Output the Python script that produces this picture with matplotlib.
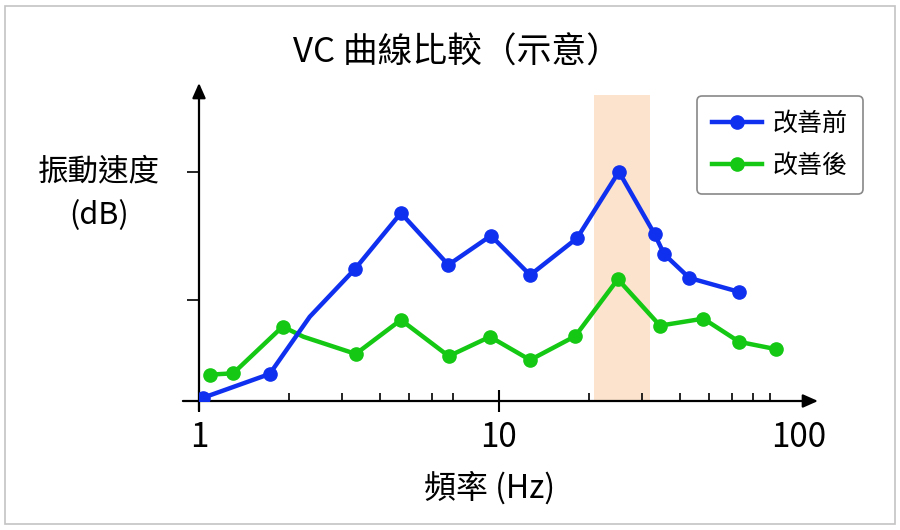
import matplotlib
matplotlib.use('Agg')
import matplotlib.pyplot as plt
from matplotlib.patches import Rectangle

plt.rcParams['font.family'] = ['Noto Sans CJK TC', 'DejaVu Sans']

# データ（示意）: 周波数 Hz と 振動速度（相対値）
freq_before = [1.03, 1.72, 2.34, 3.31, 4.71, 6.78, 9.40, 12.7, 18.2, 25.1, 33.0, 35.5, 43.1, 63.2]
vc_before = [1.0, 8.5, 26.5, 41.5, 59.1, 42.8, 52.0, 39.6, 51.2, 72.1, 52.5, 46.2, 38.7, 34.3]
mark_before = [0, 1, 3, 4, 5, 6, 7, 8, 9, 10, 11, 12, 13]  # 2 番目は折れ点のみ

freq_after = [1.09, 1.30, 1.90, 2.23, 3.33, 4.71, 6.80, 9.33, 12.7, 17.96, 24.9, 34.4, 48.0, 63.2, 83.8]
vc_after = [8.3, 8.7, 23.4, 20.2, 14.8, 25.5, 14.1, 20.2, 12.9, 20.4, 38.3, 23.7, 25.9, 18.6, 16.3]
mark_after = [0, 1, 2, 4, 5, 6, 7, 8, 9, 10, 11, 12, 13, 14]

band = (20.7, 31.9)      # 強調帯
band_top = 96.2
ytick_pos = [31.8, 72.0]
xtick_major = [1, 10, 100]
xtick_minor = [2, 3, 4, 5, 6, 7, 20, 30, 40, 50, 60, 70, 80]

fig = plt.figure(figsize=(9, 5.3), dpi=100)
ax = fig.add_axes([199 / 900, 129 / 530, 619 / 900, 318 / 530])
ax.set_xscale('log')
ax.set_xlim(1, 115.7)
ax.set_ylim(0, 100)

ax.fill_between(band, 0, band_top, color='#fce3cd', lw=0, zorder=1)

ax.plot(freq_after, vc_after, color='#14c814', lw=3.2, marker='o', ms=9.5,
        markevery=mark_after, label='改善後', zorder=3)
ax.plot(freq_before, vc_before, color='#1030f0', lw=3.2, marker='o', ms=9.5,
        markevery=mark_before, label='改善前', zorder=4)

for s in ax.spines.values():
    s.set_visible(False)

# 矢印付きの軸
arrow = dict(arrowstyle='-|>,head_length=0.9,head_width=0.4', color='black',
             lw=1.6, shrinkA=0, shrinkB=0)
ax.annotate('', xy=(1.0, 0), xytext=(-0.026, 0), xycoords='axes fraction',
            arrowprops=arrow, annotation_clip=False)
ax.annotate('', xy=(0, 1.0), xytext=(0, -0.03), xycoords='axes fraction',
            arrowprops=arrow, annotation_clip=False)

ax.set_xticks(xtick_major)
ax.set_xticklabels(['1', '10', '100'])
ax.set_xticks(xtick_minor, minor=True)
ax.set_xticklabels([], minor=True)
ax.tick_params(axis='x', which='major', direction='inout', length=16, width=1.5,
               labelsize=24, pad=6)
ax.tick_params(axis='x', which='minor', direction='in', length=6, width=1.2)
ax.xaxis.get_major_ticks()[2].tick1line.set_visible(False)  # 100 は矢印のみ
ax.set_yticks(ytick_pos)
ax.set_yticklabels([])
ax.tick_params(axis='y', which='major', direction='out', length=9, width=1.2)
ax.tick_params(axis='y', which='minor', left=False)

fig.text(0.508, 0.899, 'VC 曲線比較（示意）', ha='center', va='center', fontsize=25)
fig.text(99 / 900, 1 - 172 / 530, '振動速度', ha='center', va='center', fontsize=22)
fig.text(99 / 900, 1 - 216 / 530, '(dB)', ha='center', va='center', fontsize=22)
fig.text(490 / 900, 1 - 488 / 530, '頻率 (Hz)', ha='center', va='center', fontsize=23)

h, l = ax.get_legend_handles_labels()
leg = ax.legend(h[::-1], l[::-1], loc='upper right', bbox_to_anchor=(863 / 900, 1 - 96 / 530),
                bbox_transform=fig.transFigure, fontsize=18, handlelength=2.0,
                handletextpad=0.45, framealpha=1, edgecolor='#888888', fancybox=True,
                borderpad=0.6, labelspacing=0.62, borderaxespad=0)
leg.get_frame().set_linewidth(1.2)

fig.add_artist(Rectangle((0.006, 0.011), 0.988, 0.978, transform=fig.transFigure,
                         fill=False, edgecolor='#c4c4c4', lw=1.2))

fig.savefig('out.png', dpi=100)
